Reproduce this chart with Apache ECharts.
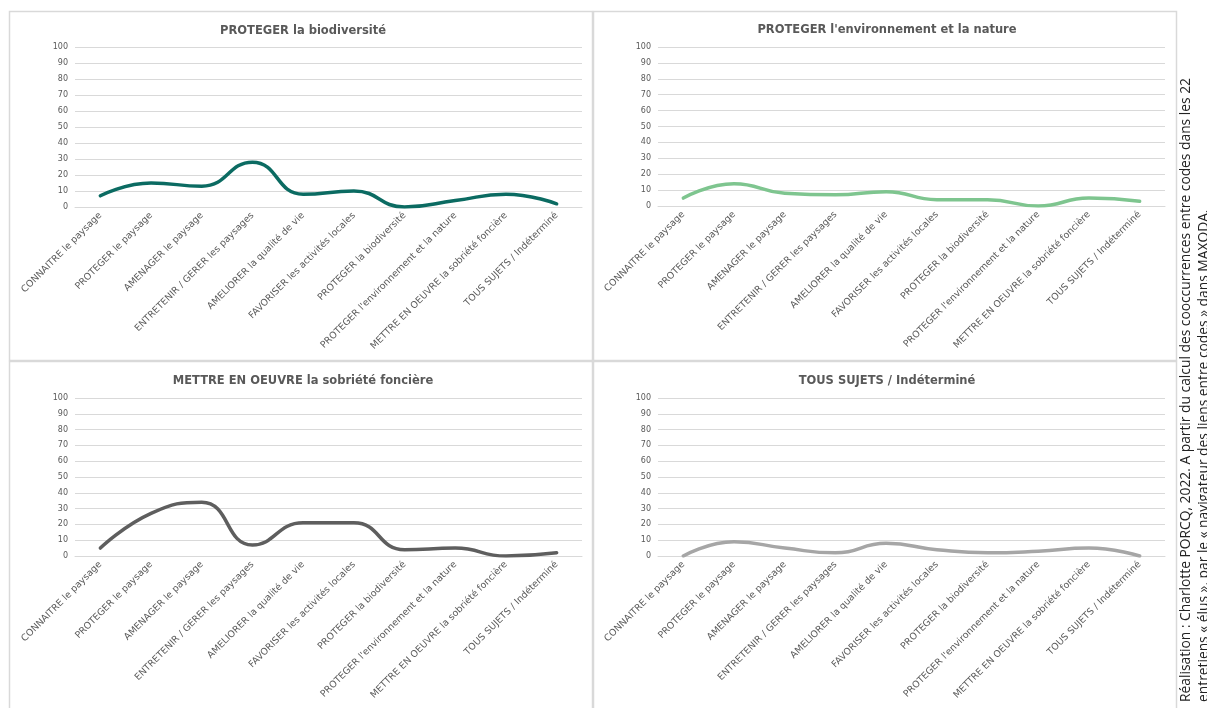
<!DOCTYPE html>
<html>
<head>
<meta charset="utf-8">
<script src="https://cdn.jsdelivr.net/npm/echarts@6/dist/echarts.min.js"></script>
<style>
html,body{margin:0;padding:0;background:#fff;}
#chart{width:1207px;height:708px;}
</style>
</head>
<body>
<div id="chart"></div>
<script>
const categories = [
  "CONNAITRE le paysage",
  "PROTEGER le paysage",
  "AMENAGER le paysage",
  "ENTRETENIR / GERER les paysages",
  "AMELIORER la qualité de vie",
  "FAVORISER les activités locales",
  "PROTEGER la biodiversité",
  "PROTEGER l'environnement et la nature",
  "METTRE EN OEUVRE la sobriété foncière",
  "TOUS SUJETS / Indéterminé"
];
const panelTitles = [
  "PROTEGER la biodiversité",
  "PROTEGER l'environnement et la nature",
  "METTRE EN OEUVRE la sobriété foncière",
  "TOUS SUJETS / Indéterminé"
];
const biodiversite = [7, 15, 13, 28, 8, 10, 0, 4, 8, 2];
const environnementNature = [5, 14, 8, 7, 9, 4, 4, 0, 5, 3];
const sobrieteFonciere = [5, 27, 34, 7, 21, 21, 4, 5, 0, 2];
const tousSujets = [0, 9, 5, 2, 8, 4, 2, 3, 5, 0];
const yTicks = { min: 0, max: 100, interval: 10 };
const sourceLine1 = "Réalisation : Charlotte PORCQ, 2022. A partir du calcul des cooccurrences entre codes dans les 22";
const sourceLine2 = "entretiens « élus », par le « navigateur des liens entre codes » dans MAXQDA.";

const seriesData = [biodiversite, environnementNature, sobrieteFonciere, tousSujets];
const colors = ["#0b6b62", "#7ec58f", "#5e5e5e", "#a6a6a6"];

const grids = [
  { left: 75, top: 47, width: 507, height: 160 },
  { left: 658, top: 47, width: 507, height: 159 },
  { left: 75, top: 398, width: 507, height: 158 },
  { left: 658, top: 398, width: 507, height: 158 }
];
const titlePos = [
  { left: 298, top: 20 },
  { left: 882, top: 19 },
  { left: 298, top: 370 },
  { left: 882, top: 370 }
];
const panels = [
  { x: 9, y: 11, w: 583, h: 349 },
  { x: 593, y: 11, w: 583, h: 349 },
  { x: 9, y: 361, w: 583, h: 360 },
  { x: 593, y: 361, w: 583, h: 360 }
];

const font = "'DejaVu Sans', sans-serif";
const chart = echarts.init(document.getElementById('chart'), null, { renderer: 'canvas' });

const option = {
  backgroundColor: '#ffffff',
  animation: false,
  title: panelTitles.map((t, i) => ({
    text: t,
    left: titlePos[i].left,
    top: titlePos[i].top,
    textAlign: 'center',
    textStyle: { fontFamily: font, fontSize: 11.5, fontWeight: 'bold', color: '#595959' }
  })),
  grid: grids.map(g => Object.assign({ containLabel: false }, g)),
  xAxis: grids.map((g, i) => ({
    type: 'category',
    gridIndex: i,
    data: categories,
    boundaryGap: true,
    axisLine: { show: true, lineStyle: { color: '#d9d9d9', width: 1 } },
    axisTick: { show: false },
    axisLabel: {
      interval: 0,
      rotate: 45,
      margin: 7,
      fontFamily: font,
      fontSize: 9.4,
      color: '#595959'
    }
  })),
  yAxis: grids.map((g, i) => ({
    type: 'value',
    gridIndex: i,
    min: yTicks.min,
    max: yTicks.max,
    interval: yTicks.interval,
    axisLine: { show: false },
    axisTick: { show: false },
    splitLine: { lineStyle: { color: '#d9d9d9', width: 1 } },
    axisLabel: { margin: 7, fontFamily: font, fontSize: 8, color: '#595959' }
  })),
  series: seriesData.map((d, i) => ({
    type: 'line',
    xAxisIndex: i,
    yAxisIndex: i,
    data: d,
    smooth: 0.5,
    showSymbol: false,
    symbol: 'none',
    lineStyle: { color: colors[i], width: 3.5, cap: 'round', join: 'round' },
    itemStyle: { color: colors[i] },
    z: 5
  })),
  graphic: panels.map(p => ({
    type: 'rect',
    silent: true,
    z: -1,
    shape: { x: p.x + 0.5, y: p.y + 0.5, width: p.w, height: p.h },
    style: { fill: 'none', stroke: '#d9d9d9', lineWidth: 1.5 }
  })).concat([
    {
      type: 'text',
      x: 1186,
      y: 702,
      rotation: Math.PI / 2,
      style: { text: sourceLine1, fontFamily: "'Open Sans', sans-serif", fontSize: 13.8, fill: '#222222', align: 'left', verticalAlign: 'middle' }
    },
    {
      type: 'text',
      x: 1204,
      y: 702,
      rotation: Math.PI / 2,
      style: { text: sourceLine2, fontFamily: "'Open Sans', sans-serif", fontSize: 13.8, fill: '#222222', align: 'left', verticalAlign: 'middle' }
    }
  ])
};
chart.setOption(option);
</script>
</body>
</html>
